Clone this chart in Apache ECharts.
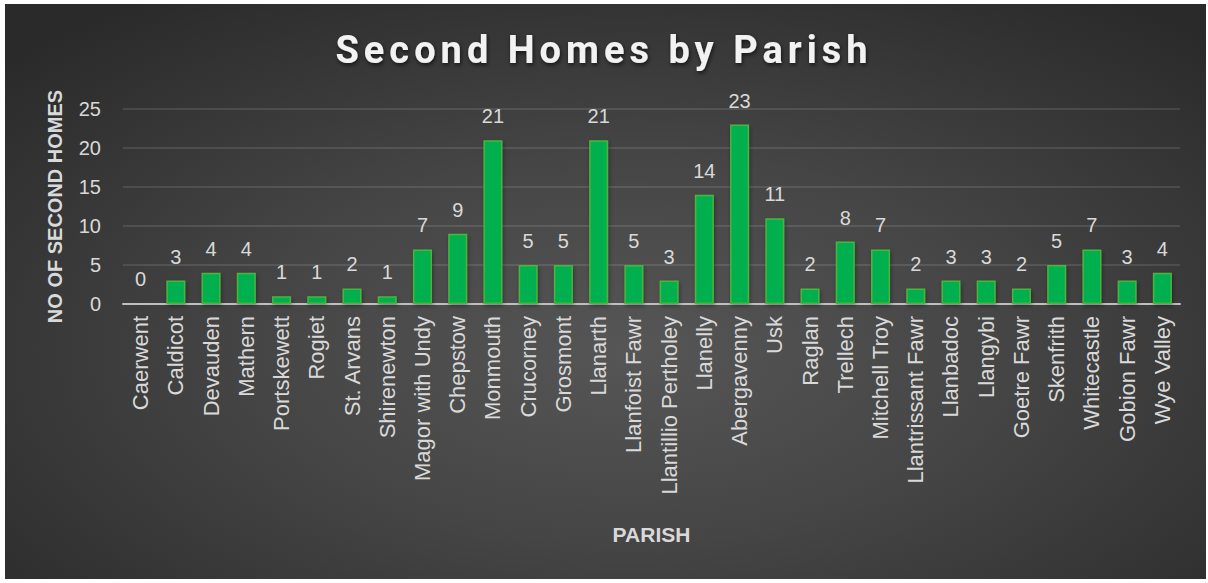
<!DOCTYPE html>
<html>
<head>
<meta charset="utf-8">
<script src="https://cdn.jsdelivr.net/npm/echarts@6/dist/echarts.min.js"></script>
<style>
  html, body { margin: 0; padding: 0; background: #ffffff; }
  #panel { position: absolute; left: 5px; top: 4px; width: 1201px; height: 575px;
    background: radial-gradient(ellipse 70% 75% at 52% 60%, #565656 0%, #454545 45%, #2a2a2a 100%); }
  #chart { position: absolute; left: 0; top: 0; width: 1208px; height: 583px; }
</style>
</head>
<body>
<div id="panel"></div>
<div id="chart"></div>
<script>
const titleText = 'Second Homes by Parish';
const xAxisTitle = 'PARISH';
const yAxisTitle = 'NO OF SECOND HOMES';
const parishes = ['Caerwent', 'Caldicot', 'Devauden', 'Mathern', 'Portskewett', 'Rogiet', 'St. Arvans',
  'Shirenewton', 'Magor with Undy', 'Chepstow', 'Monmouth', 'Crucorney', 'Grosmont', 'Llanarth',
  'Llanfoist Fawr', 'Llantillio Pertholey', 'Llanelly', 'Abergavenny', 'Usk', 'Raglan', 'Trellech',
  'Mitchell Troy', 'Llantrissant Fawr', 'Llanbadoc', 'Llangybi', 'Goetre Fawr', 'Skenfrith',
  'Whitecastle', 'Gobion Fawr', 'Wye Valley'];
const secondHomes = [0, 3, 4, 4, 1, 1, 2, 1, 7, 9, 21, 5, 5, 21, 5, 3, 14, 23, 11, 2, 8, 7, 2, 3, 3, 2, 5, 7, 3, 4];
const yTicks = [0, 5, 10, 15, 20, 25];

const chart = echarts.init(document.getElementById('chart'), null, { renderer: 'svg' });
const textColor = '#d9d9d9';
const font = '"Liberation Sans", Arial, sans-serif';

chart.setOption({
  animation: false,
  backgroundColor: 'transparent',
  title: {
    text: titleText,
    left: 'center',
    top: 26,
    textStyle: {
      fontFamily: 'Roboto, "Liberation Sans", sans-serif',
      fontWeight: 'bold',
      fontSize: 38,
      color: '#f2f2f2',
      textShadowColor: 'rgba(0,0,0,0.65)',
      textShadowBlur: 4,
      textShadowOffsetX: 1,
      textShadowOffsetY: 2
    }
  },
  grid: { left: 123, right: 28, top: 109, bottom: 279, containLabel: false, outerBoundsMode: 'none' },
  xAxis: {
    type: 'category',
    data: parishes,
    name: xAxisTitle,
    nameLocation: 'middle',
    nameGap: 220,
    nameTextStyle: { color: textColor, fontFamily: font, fontWeight: 'bold', fontSize: 21 },
    axisLine: { lineStyle: { color: '#bfbfbf', width: 2 } },
    axisTick: { show: false },
    axisLabel: { rotate: 90, interval: 0, margin: 12, color: textColor, fontFamily: font, fontSize: 22 }
  },
  yAxis: {
    type: 'value',
    min: yTicks[0],
    max: yTicks[yTicks.length - 1],
    interval: 5,
    name: yAxisTitle,
    nameLocation: 'middle',
    nameGap: 58,
    nameTextStyle: { color: textColor, fontFamily: font, fontWeight: 'bold', fontSize: 20 },
    axisLine: { show: false },
    axisTick: { show: false },
    axisLabel: { margin: 22, color: textColor, fontFamily: font, fontSize: 20 },
    splitLine: { lineStyle: { color: 'rgba(255,255,255,0.14)', width: 1.5 } }
  },
  series: [{
    type: 'bar',
    data: secondHomes,
    barCategoryGap: '46%',
    itemStyle: {
      color: '#00b050',
      borderColor: '#4db33d',
      borderWidth: 1.5,
      shadowColor: 'rgba(0,0,0,0.35)',
      shadowBlur: 4,
      shadowOffsetX: 1,
      shadowOffsetY: 2
    },
    label: {
      show: true,
      position: 'top',
      distance: 14,
      color: textColor,
      fontFamily: font,
      fontSize: 20
    }
  }]
});

function spaceTitle() {
  document.querySelectorAll('#chart svg text').forEach(function (t) {
    if (t.textContent === titleText) {
      t.setAttribute('letter-spacing', '5px');
      t.style.letterSpacing = '5px';
    }
  });
}
spaceTitle();
chart.on('finished', spaceTitle);
</script>
</body>
</html>
